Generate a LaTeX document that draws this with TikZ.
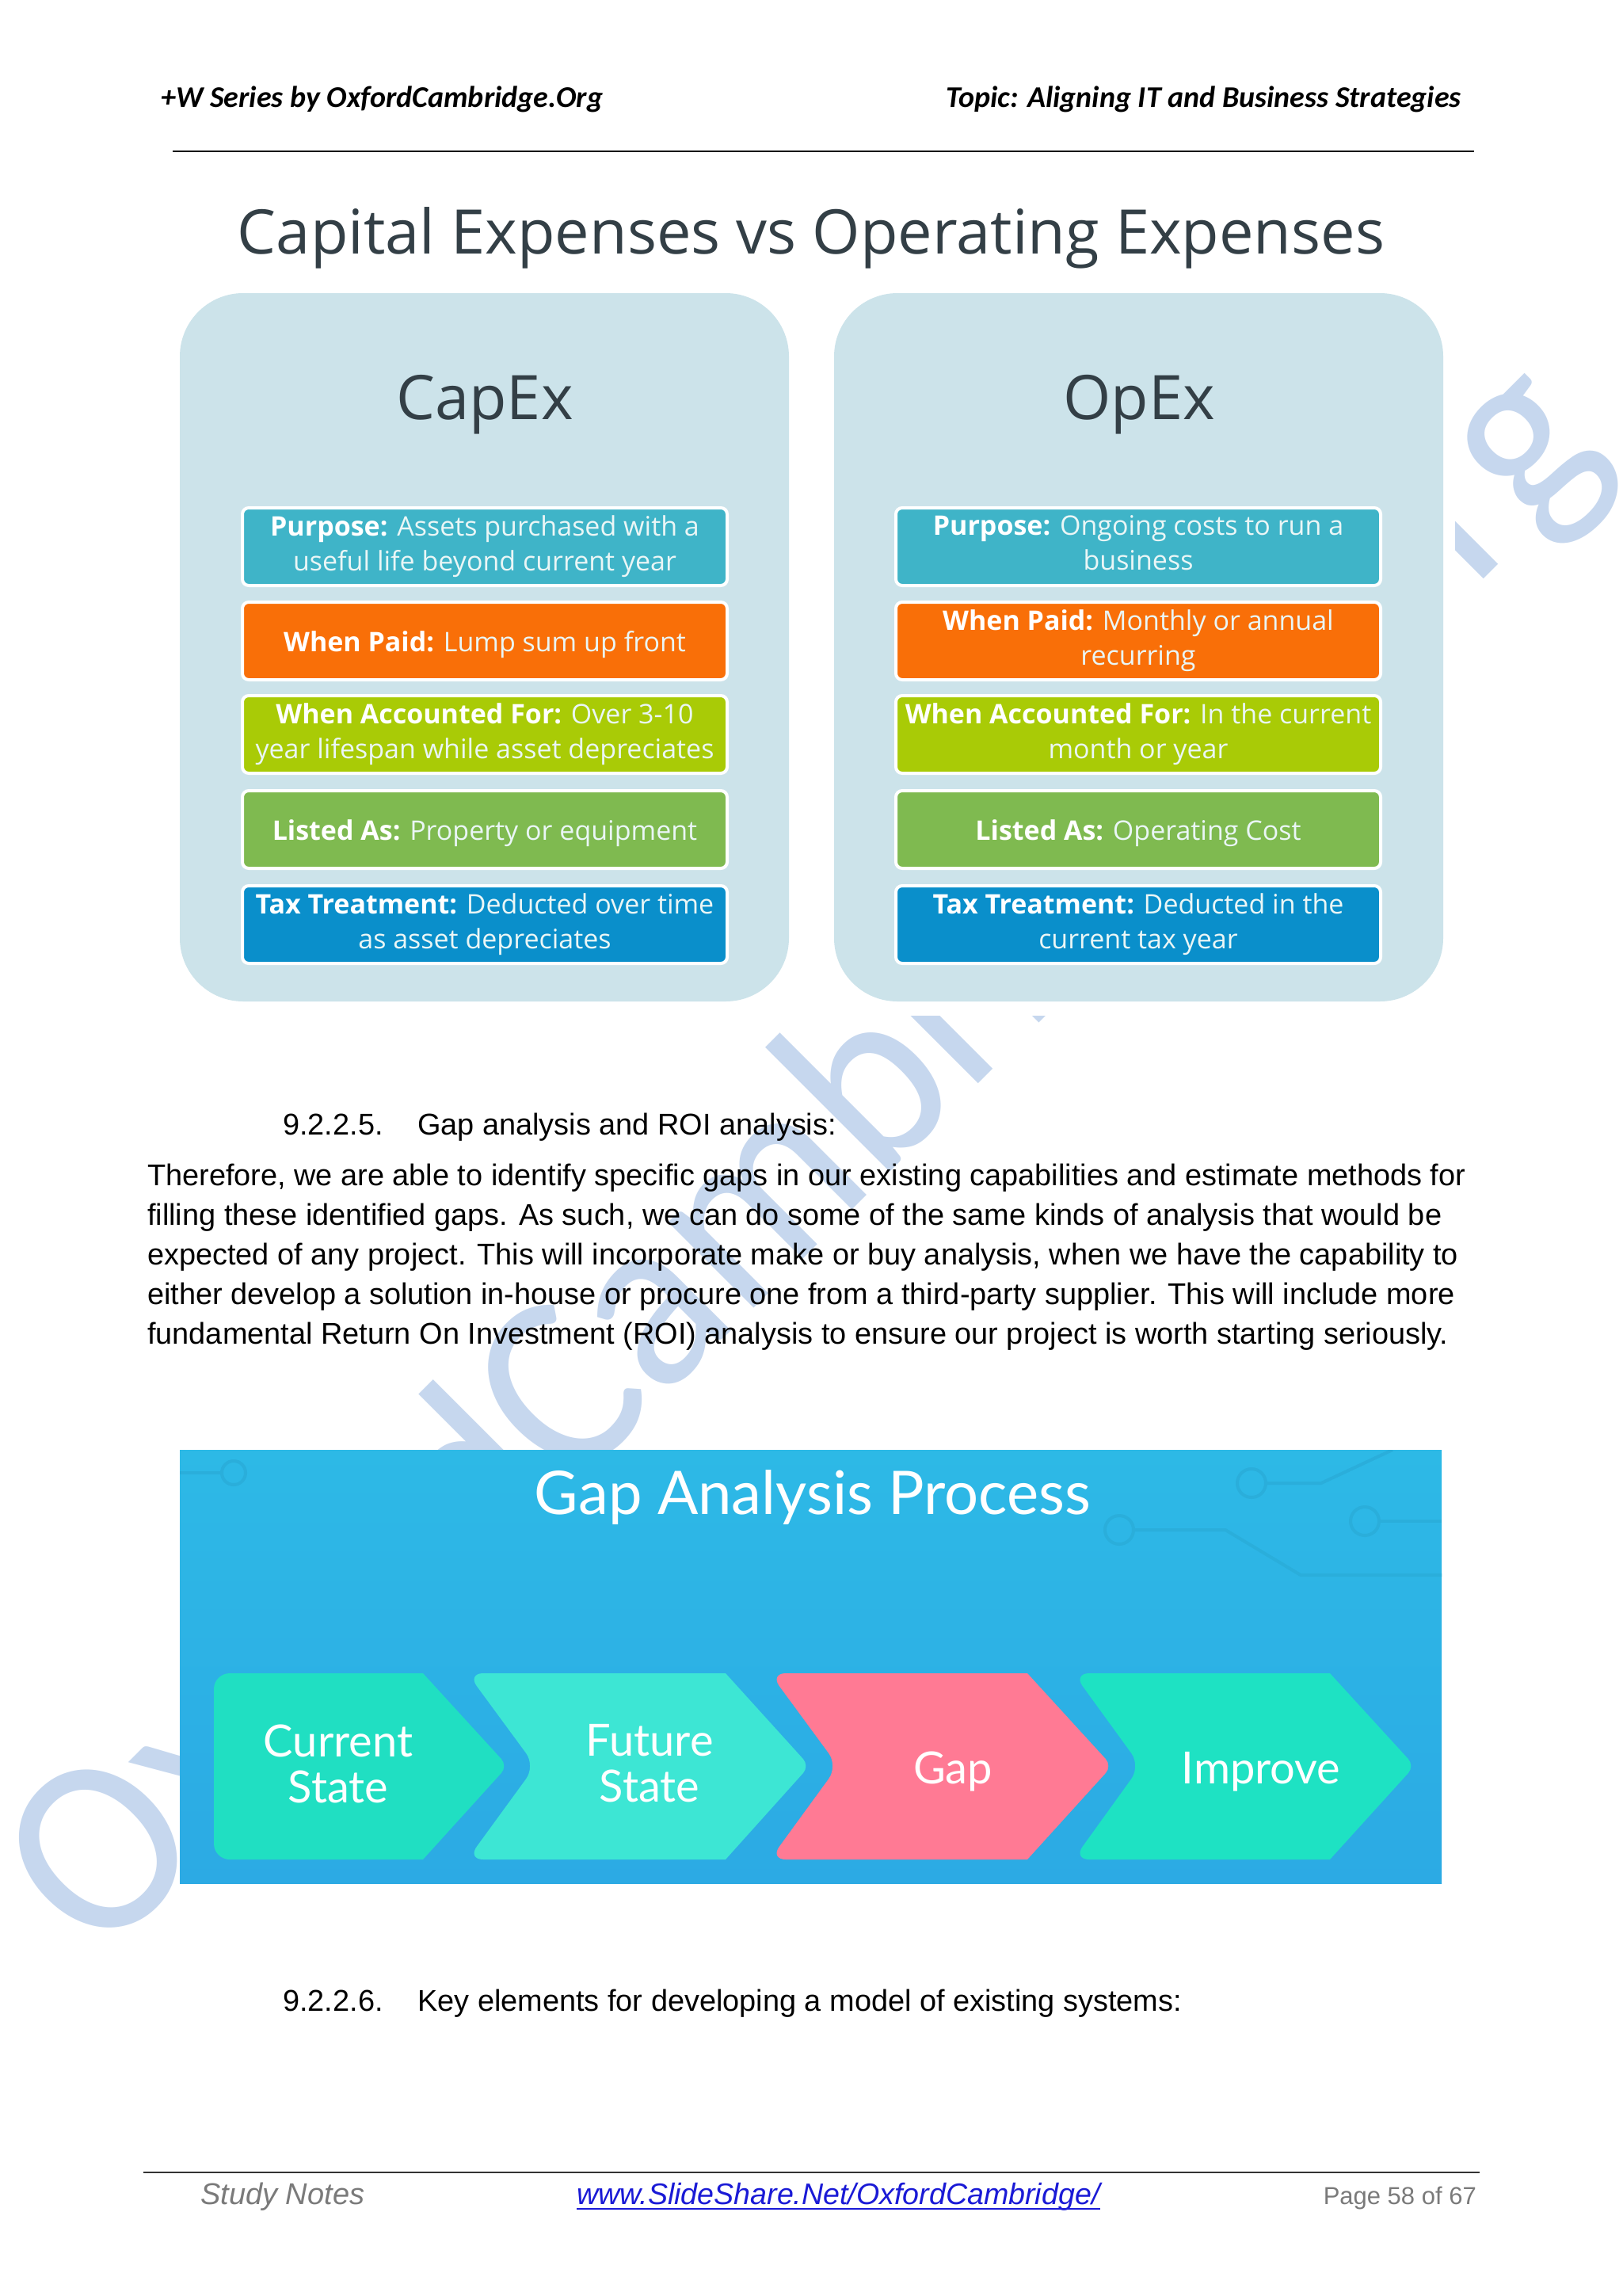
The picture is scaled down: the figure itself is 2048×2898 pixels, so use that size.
\documentclass[tikz,border=0pt]{standalone}
\usepackage{fontspec}
\setmainfont{Liberation Sans}
\newfontfamily\calib{Carlito}
\newfontfamily\segoe{Open Sans}
\newfontfamily\latof{Lato}
\definecolor{wm}{HTML}{C6D7EE}
\definecolor{panel}{HTML}{CCE3EA}
\definecolor{titleink}{HTML}{333F46}
\definecolor{cpurpose}{HTML}{3FB4C8}
\definecolor{cpaid}{HTML}{F96F08}
\definecolor{caccount}{HTML}{A9CB06}
\definecolor{clisted}{HTML}{7FBA50}
\definecolor{ctax}{HTML}{0A8FCB}
\definecolor{softwhite}{HTML}{EAF6F6}
\definecolor{circuit}{HTML}{2AAEDB}
\definecolor{chevA}{HTML}{20DFC2}
\definecolor{chevB}{HTML}{3DE6D4}
\definecolor{chevC}{HTML}{FF7A94}
\definecolor{chevD}{HTML}{1EE2C3}
\definecolor{linkblue}{HTML}{1A1AD6}
\definecolor{footgray}{HTML}{7A7A7A}
\definecolor{bannertop}{RGB}{45,185,230}
\definecolor{bannerbot}{RGB}{44,170,228}
\newcommand{\hd}[1]{\textbf{\textcolor{white}{#1}}}
\newcommand{\itemstrut}{\rule[-9pt]{0pt}{44pt}}
\tikzset{
  x=1pt,y=-1pt,
  body/.style={anchor=base west,inner sep=0pt,font=\fontsize{37.9}{50}\selectfont,text=black},
  head/.style={anchor=base west,inner sep=0pt,font=\calib\bfseries\itshape\fontsize{38}{46}\selectfont,text=black},
  panelbox/.style={fill=panel,rounded corners=80pt},
  item/.style={draw=white,line width=4pt,rounded corners=8pt,minimum width=612pt,minimum height=98pt,inner sep=0pt,align=center,text=softwhite,font=\segoe\fontsize{34}{44}\selectfont,execute at begin node=\itemstrut,execute at end node=\itemstrut},
  paneltitle/.style={inner sep=0pt,text=titleink,font=\segoe\fontsize{77.5}{90}\selectfont},
  chevtext/.style={inner sep=0pt,align=center,text=white,font=\latof\fontsize{56}{58}\selectfont},
  trace/.style={draw=circuit,line width=4pt}
}
\begin{document}
\begin{tikzpicture}
\useasboundingbox (0,0) rectangle (2048,2898);
\fill[white] (0,0) rectangle (2048,2898);
\begin{scope}
\clip (0,0) rectangle (2048,2898);
\node[rotate=45,inner sep=0pt,text=wm,font=\calib\fontsize{320}{320}\selectfont] (watermark) at (1020,1465) {\scalebox{0.95}[1]{OxfordCambridge.Org}};
\end{scope}
\fill[white] (210,210) rectangle (1837,1282);

% header
\node[head] (hl) at (203,136) {+W Series by OxfordCambridge.Org};
\node[head,anchor=base east] (hr) at (1845,136) {Topic: Aligning IT and Business Strategies};
\draw[line width=2.5pt] (218,191) -- (1861,191);

% title
\node[inner sep=0pt,text=titleink,font=\segoe\fontsize{77.6}{90}\selectfont] (maintitle) at (1024,300) {Capital Expenses vs Operating Expenses};

% panels
\fill[panelbox] (227,370) rectangle (996,1264);
\fill[panelbox] (1053,370) rectangle (1822,1264);
\node[paneltitle] (capex) at (612,511) {CapEx};
\node[paneltitle] (opex) at (1438,511) {OpEx};

% CapEx
\node[item,fill=cpurpose] (c1) at (612,690) {\hd{Purpose:} Assets purchased with a\\useful life beyond current year};
\node[item,fill=cpaid] (c2) at (612,809) {\hd{When Paid:} Lump sum up front};
\node[item,fill=caccount] (c3) at (612,927) {\hd{When Accounted For:} Over 3-10\\year lifespan while asset depreciates};
\node[item,fill=clisted] (c4) at (612,1047) {\hd{Listed As:} Property or equipment};
\node[item,fill=ctax] (c5) at (612,1167) {\hd{Tax Treatment:} Deducted over time\\as asset depreciates};
% OpEx
\node[item,fill=cpurpose] (o1) at (1437,690) {\hd{Purpose:} Ongoing costs to run a\\business};
\node[item,fill=cpaid] (o2) at (1437,809) {\hd{When Paid:} Monthly or annual\\recurring};
\node[item,fill=caccount] (o3) at (1437,927) {\hd{When Accounted For:} In the current\\month or year};
\node[item,fill=clisted] (o4) at (1437,1047) {\hd{Listed As:} Operating Cost};
\node[item,fill=ctax] (o5) at (1437,1167) {\hd{Tax Treatment:} Deducted in the\\current tax year};

% body text
\node[body] (s5n) at (357,1432) {9.2.2.5.};
\node[body] (s5t) at (527,1432) {Gap analysis and ROI analysis:};
\node[body] (l1) at (186,1496) {Therefore, we are able to identify specific gaps in our existing capabilities and estimate methods for};
\node[body] (l2) at (186,1546) {filling these identified gaps. As such, we can do some of the same kinds of analysis that would be};
\node[body] (l3) at (186,1596) {expected of any project. This will incorporate make or buy analysis, when we have the capability to};
\node[body] (l4) at (186,1646) {either develop a solution in-house or procure one from a third-party supplier. This will include more};
\node[body] (l5) at (186,1696) {fundamental Return On Investment (ROI) analysis to ensure our project is worth starting seriously.};

% gap analysis banner
\shade[top color=bannertop,bottom color=bannerbot] (227,1830) rectangle (1820,2377);
\begin{scope}
\clip (227,1830) rectangle (1820,2377);
\draw[trace] (227,1859) -- (280,1859);
\draw[trace] (295,1859) circle (15);
\draw[trace] (1598,1872) -- (1668,1872) -- (1758,1830);
\draw[trace] (1580,1872) circle (18);
\draw[trace] (1741,1920) -- (1820,1920);
\draw[trace] (1723,1920) circle (18);
\draw[trace] (1431,1931) -- (1547,1931) -- (1642,1988) -- (1820,1988);
\draw[trace] (1413,1931) circle (18);
\end{scope}
\node[inner sep=0pt,text=white,font=\latof\fontsize{76}{80}\selectfont] (gaptitle) at (1026,1890) {Gap Analysis Process};

\fill[chevA] (270,2230) [rounded corners=20pt] -- (270,2112) [sharp corners] -- (534,2112) [rounded corners=12pt] -- (641,2229) [sharp corners] -- (534,2347) [rounded corners=20pt] -- (270,2347) -- cycle;
\fill[chevB] (676,2229) [rounded corners=20pt] -- (590,2112) [sharp corners] -- (916,2112) [rounded corners=12pt] -- (1022,2229) [sharp corners] -- (916,2347) [rounded corners=20pt] -- (590,2347) -- cycle;
\fill[chevC] (1058,2229) [rounded corners=20pt] -- (972,2112) [sharp corners] -- (1297,2112) [rounded corners=12pt] -- (1404,2229) [sharp corners] -- (1297,2347) [rounded corners=20pt] -- (972,2347) -- cycle;
\fill[chevD] (1440,2229) [rounded corners=20pt] -- (1355,2112) [sharp corners] -- (1679,2112) [rounded corners=12pt] -- (1786,2229) [sharp corners] -- (1679,2347) [rounded corners=20pt] -- (1355,2347) -- cycle;
\node[chevtext] (t1) at (427,2226) {Current\\State};
\node[chevtext] (t2) at (820,2226) {Future\\State};
\node[chevtext] (t3) at (1203,2236) {Gap};
\node[chevtext] (t4) at (1592,2236) {Improve};

% second section
\node[body] (s6n) at (357,2538) {9.2.2.6.};
\node[body] (s6t) at (527,2538) {Key elements for developing a model of existing systems:};

% footer
\draw[line width=2pt,draw=black!80] (181,2742) -- (1868,2742);
\node[anchor=base west,inner sep=0pt,text=footgray,font=\itshape\fontsize{38}{46}\selectfont] (fl) at (253,2782) {Study Notes};
\node[anchor=base west,inner sep=0pt,text=linkblue,font=\itshape\fontsize{37.6}{46}\selectfont] (fc) at (728,2782) {www.SlideShare.Net/OxfordCambridge/};
\draw[draw=linkblue,line width=2.5pt] ([yshift=-6pt]fc.base west) -- ([yshift=-6pt]fc.base east);
\node[anchor=base east,inner sep=0pt,text=footgray,font=\fontsize{31}{40}\selectfont] (fr) at (1864,2782) {Page 58 of 67};
\end{tikzpicture}
\end{document}
